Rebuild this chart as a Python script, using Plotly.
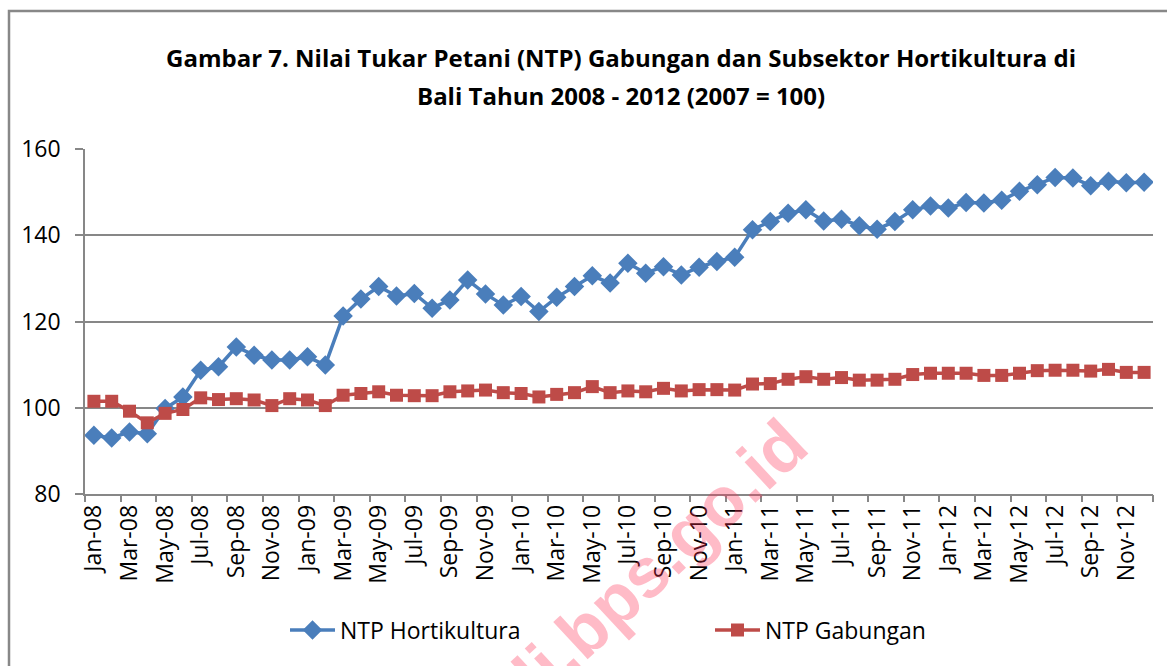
import plotly.graph_objects as go

months = [f"{m}-{y:02d}" for y in range(8, 13) for m in
          ["Jan", "Feb", "Mar", "Apr", "May", "Jun", "Jul", "Aug", "Sep", "Oct", "Nov", "Dec"]]

ntp_hortikultura = [
    93.6, 93.0, 94.4, 94.0, 99.8, 102.5, 108.7, 109.5, 114.1, 112.2, 111.1, 111.1,
    111.8, 109.9, 121.3, 125.2, 128.1, 125.9, 126.5, 123.1, 125.0, 129.6, 126.4, 123.8,
    125.8, 122.3, 125.6, 128.1, 130.6, 128.9, 133.5, 131.2, 132.7, 130.8, 132.6, 133.9,
    134.9, 141.3, 143.2, 145.1, 145.9, 143.3, 143.7, 142.2, 141.4, 143.2, 145.9, 146.8,
    146.3, 147.6, 147.5, 148.1, 150.2, 151.7, 153.4, 153.3, 151.5, 152.5, 152.2, 152.3,
]
ntp_gabungan = [
    101.5, 101.5, 99.2, 96.5, 98.7, 99.6, 102.3, 101.9, 102.1, 101.8, 100.5, 102.1,
    101.8, 100.5, 102.9, 103.3, 103.7, 102.9, 102.8, 102.8, 103.7, 103.9, 104.1, 103.5,
    103.3, 102.5, 103.1, 103.5, 104.9, 103.5, 103.9, 103.7, 104.5, 103.9, 104.2, 104.2,
    104.1, 105.5, 105.6, 106.6, 107.2, 106.6, 107.0, 106.4, 106.4, 106.6, 107.7, 108.0,
    108.0, 108.0, 107.5, 107.5, 108.0, 108.6, 108.7, 108.7, 108.5, 108.9, 108.2, 108.2,
]

title_lines = ["Gambar 7. Nilai Tukar Petani (NTP) Gabungan dan Subsektor Hortikultura di",
               "Bali Tahun 2008 - 2012 (2007 = 100)"]
y_ticks = [80, 100, 120, 140, 160]

BLUE = "#4a7ebb"
RED = "#be4b48"
GRID = "#878787"
FONT = "Open Sans"

W, H = 1167, 666
L, R, T, B = 85, 14, 149, 172
pw, ph = W - L - R, H - T - B

idx = list(range(len(months)))

fig = go.Figure()
fig.add_trace(go.Scatter(
    x=idx, y=ntp_hortikultura, name="NTP Hortikultura", mode="lines+markers",
    line=dict(color=BLUE, width=3.5),
    marker=dict(symbol="diamond", size=15, color=BLUE),
    legend="legend",
))
fig.add_trace(go.Scatter(
    x=idx, y=ntp_gabungan, name="NTP Gabungan", mode="lines+markers",
    line=dict(color=RED, width=3.5),
    marker=dict(symbol="square", size=13, color=RED),
    legend="legend2",
))
# invisible trace for boundary ticks on overlay axis
fig.add_trace(go.Scatter(x=[-0.5], y=[80], xaxis="x2", mode="markers",
                         marker=dict(opacity=0), showlegend=False, hoverinfo="skip"))

fig.update_layout(
    width=W, height=H,
    margin=dict(l=L, r=R, t=T, b=B),
    paper_bgcolor="white", plot_bgcolor="white",
    font=dict(family=FONT, color="black"),
    xaxis=dict(
        range=[-0.5, len(months) - 0.5],
        tickvals=idx[::2], ticktext=months[::2],
        tickangle=-90, tickfont=dict(size=23, family=FONT, color="black"),
        ticks="", showgrid=False, zeroline=False,
        showline=True, linecolor=GRID, linewidth=1.5,
    ),
    xaxis2=dict(
        overlaying="x", matches="x", side="bottom",
        range=[-0.5, len(months) - 0.5],
        tickvals=[i - 0.5 for i in range(0, len(months) + 1, 2)],
        ticks="outside", ticklen=7, tickcolor=GRID, tickwidth=1.5,
        showticklabels=False, showgrid=False, zeroline=False, showline=False,
    ),
    yaxis=dict(
        range=[80, 160], tickvals=y_ticks,
        tickfont=dict(size=23, family=FONT, color="black"),
        showgrid=True, gridcolor=GRID, gridwidth=1.5,
        ticks="outside", ticklen=8, tickcolor=GRID, tickwidth=1.5,
        ticklabelstandoff=10,
        showline=True, linecolor=GRID, linewidth=1.5, zeroline=False,
    ),
    legend=dict(
        xref="container", yref="container", x=285 / W, y=1 - 630 / H,
        xanchor="left", yanchor="middle", orientation="h", itemwidth=45,
        font=dict(size=23, family=FONT, color="black"), bgcolor="rgba(0,0,0,0)",
    ),
    legend2=dict(
        xref="container", yref="container", x=710 / W, y=1 - 630 / H,
        xanchor="left", yanchor="middle", orientation="h", itemwidth=45,
        font=dict(size=23, family=FONT, color="black"), bgcolor="rgba(0,0,0,0)",
    ),
    showlegend=True,
)

def px_to_paper_x(px):
    return (px - L) / pw

def px_to_paper_y(py):
    return (H - B - py) / ph

for text, ypx in zip(title_lines, [57, 95]):
    fig.add_annotation(
        text=f"<b>{text}</b>", xref="paper", yref="paper",
        x=px_to_paper_x(621), y=px_to_paper_y(ypx),
        xanchor="center", yanchor="middle", showarrow=False,
        font=dict(size=24, family=FONT, color="black"),
    )

# watermark
fig.add_annotation(
    text="<b>bali.bps.go.id</b>", xref="paper", yref="paper",
    x=px_to_paper_x(630), y=px_to_paper_y(587),
    xanchor="center", yanchor="middle", showarrow=False, textangle=-43,
    font=dict(size=70, family="Liberation Sans", color="rgba(255,50,85,0.33)"),
)

# outer chart border
fig.add_shape(
    type="rect", xref="paper", yref="paper",
    x0=px_to_paper_x(9), x1=px_to_paper_x(W + 20),
    y0=px_to_paper_y(H + 20), y1=px_to_paper_y(11),
    line=dict(color="#888888", width=2.5), fillcolor="rgba(0,0,0,0)", layer="below",
)

fig.write_html(
    "out.html",
    config={"displayModeBar": False},
    post_script="document.body.style.margin='0';document.body.style.overflow='hidden';",
)
